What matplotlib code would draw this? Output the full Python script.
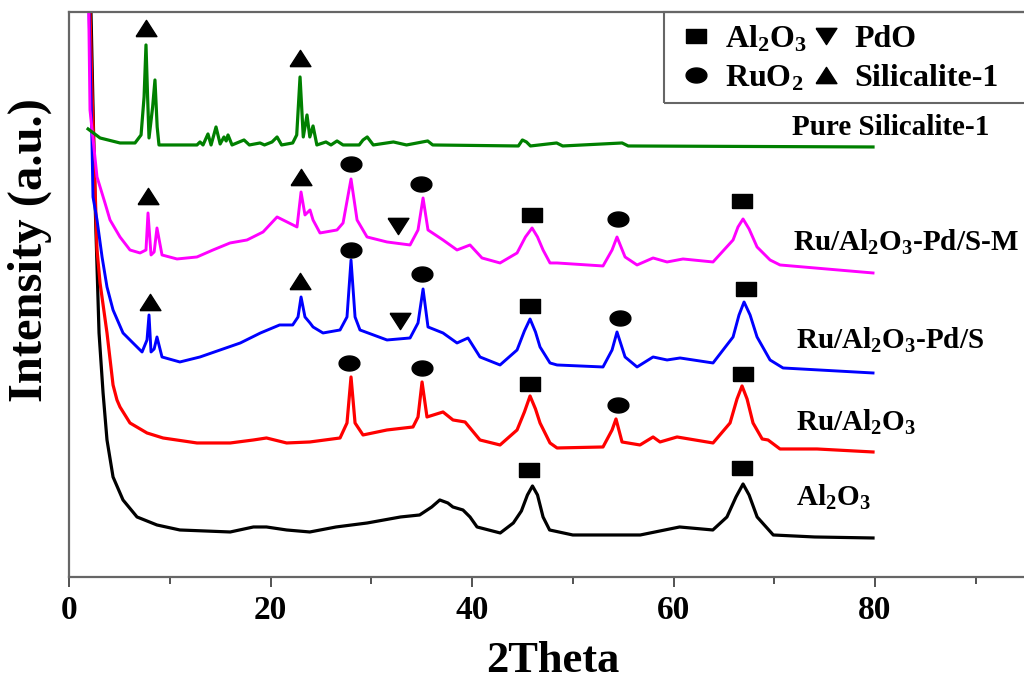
import numpy as np
import matplotlib
matplotlib.use('Agg')
import matplotlib.pyplot as plt
from matplotlib.lines import Line2D
from matplotlib.patches import Rectangle

plt.rcParams['font.family'] = ['Liberation Serif', 'DejaVu Serif']
plt.rcParams['font.weight'] = 'bold'
plt.rcParams['mathtext.default'] = 'regular'

# XRD patterns (2theta, intensity in a.u.)
al2o3_x = [2.0, 2.18, 2.58, 2.78, 2.98, 3.38, 3.77, 4.37, 5.36, 6.75, 8.73, 11.0, 16.0, 18.3, 19.6,
           21.6, 23.9, 26.5, 29.6, 32.9, 34.8, 36.0, 36.8, 37.6, 38.1, 39.1, 39.8, 40.5, 42.8, 44.1,
           44.9, 45.5, 46.0, 46.5, 47.05, 47.7, 50.0, 56.7, 60.6, 63.9, 65.3, 66.2, 66.9, 67.5,
           68.3, 69.9, 74.0, 79.8]
al2o3_y = [650, 565, 377, 310, 244, 184, 137, 100, 77, 60, 52, 47, 45, 50, 50,
           47, 45, 50, 54, 60, 62, 70, 77, 74, 70, 67, 60, 50, 44, 54,
           66, 82, 91, 82, 60, 47, 42, 42, 50, 47, 60, 80, 93, 82,
           60, 42, 40, 39]

ru_x = [2.0, 2.08, 2.28, 2.78, 3.08, 3.77, 4.37, 4.76, 5.06, 6.05, 7.74, 9.33, 12.7, 16.0, 18.3,
        19.6, 21.6, 23.9, 26.9, 27.59, 27.99, 28.39, 29.18, 31.56, 34.14, 34.64, 35.04, 35.53,
        37.12, 38.11, 39.31, 40.79, 42.78, 44.47, 45.2, 45.76, 46.3, 46.75, 47.74, 48.44, 53.0,
        53.9, 54.29, 54.89, 56.67, 57.97, 58.66, 60.35, 63.92, 65.61, 66.3, 66.8, 67.3, 67.89,
        68.8, 69.38, 70.57, 74.24, 79.8]
ru_y = [640, 567, 487, 327, 294, 244, 192, 177, 170, 154, 144, 139, 134, 134, 137,
        139, 134, 135, 139, 154, 200, 154, 142, 147, 150, 160, 195, 160,
        165, 157, 155, 137, 132, 147, 165, 181, 168, 154, 134, 129, 130,
        147, 158, 135, 132, 140, 135, 140, 134, 154, 178, 191, 178, 154,
        138, 137, 128, 128, 125]

rupds_x = [1.9, 1.99, 2.28, 2.38, 2.78, 3.28, 3.77, 4.37, 5.36, 6.35, 7.25, 7.74, 7.94, 8.14, 8.45,
           8.73, 9.23, 11.0, 13.0, 15.0, 17.0, 19.0, 20.9, 22.2, 22.73, 23.03, 23.42, 23.92, 24.22,
           25.21, 26.9, 27.59, 27.99, 28.39, 28.88, 31.56, 33.85, 34.64, 35.14, 35.63, 37.12, 38.51,
           39.6, 40.79, 42.78, 44.47, 45.2, 45.76, 46.3, 46.75, 47.74, 48.44, 53.0, 53.9, 54.39,
           55.19, 56.38, 57.97, 59.36, 60.65, 63.92, 65.91, 66.5, 67.0, 67.6, 68.29, 69.58, 70.87,
           79.8]
rupds_y = [620, 565, 434, 380, 357, 320, 290, 267, 244, 234, 225, 237, 262, 225, 228,
           240, 220, 215, 220, 227, 234, 244, 252, 252, 260, 280, 260, 254, 250,
           244, 247, 260, 317, 260, 247, 237, 239, 254, 288, 250, 244, 234,
           239, 220, 212, 227, 246, 258, 245, 230, 214, 212, 210, 227, 245,
           220, 210, 220, 217, 219, 214, 240, 262, 275, 262, 240, 217, 209,
           204]

rupdsm_x = [1.9, 2.08, 2.78, 3.57, 4.07, 5.06, 6.05, 7.05, 7.64, 7.84, 8.14, 8.45, 8.73, 9.23,
            10.72, 12.7, 14.29, 15.98, 17.67, 19.26, 20.65, 21.64, 22.63, 23.03, 23.42, 23.92,
            24.22, 24.91, 26.6, 27.2, 27.99, 28.59, 29.58, 31.56, 33.85, 34.64, 35.14, 35.63,
            37.12, 38.51, 39.8, 40.99, 42.78, 44.47, 45.3, 45.96, 46.5, 47.05, 47.74, 48.44,
            53.0, 53.9, 54.39, 55.19, 56.38, 57.97, 59.36, 60.94, 63.92, 65.91, 66.4, 66.9,
            67.5, 68.29, 69.58, 70.57, 79.8]
rupdsm_y = [610, 467, 400, 374, 357, 340, 327, 324, 327, 364, 322, 325, 349, 322,
            318, 320, 327, 334, 337, 345, 360, 355, 350, 385, 362, 367,
            357, 344, 347, 354, 398, 357, 340, 335, 332, 347, 379, 347,
            337, 327, 332, 319, 314, 324, 340, 349, 340, 327, 314, 314,
            311, 327, 340, 320, 312, 319, 315, 318, 315, 337, 350, 358,
            348, 330, 317, 312, 304]

sil_x = [1.89, 3.08, 5.06, 6.55, 7.15, 7.45, 7.64, 7.8, 7.94, 8.3, 8.53, 8.75, 8.93, 12.7, 13.0,
         13.3, 13.79, 14.1, 14.59, 15.0, 15.38, 15.6, 15.78, 16.18, 17.37, 17.9, 18.96, 19.4,
         20.15, 20.65, 21.1, 22.2, 22.6, 22.93, 23.25, 23.62, 23.9, 24.22, 24.6, 25.5, 26.0,
         26.6, 27.2, 28.8, 29.18, 29.6, 30.2, 32.2, 33.5, 35.6, 36.1, 44.6, 45.0, 45.4, 45.8,
         48.4, 49.0, 54.9, 55.5, 79.8]
sil_y = [448, 439, 434, 434, 442, 480, 532, 480, 439, 470, 497, 450, 432, 432, 435,
         432, 443, 432, 450, 433, 440, 436, 442, 432, 437, 432, 434, 432,
         435, 440, 432, 434, 442, 500, 440, 462, 440, 451, 432, 435, 432,
         436, 432, 432, 437, 440, 432, 435, 432, 436, 432, 431, 437, 435, 431,
         434, 431, 434, 431, 430]

# peak markers (2theta, height) per phase
sq_x = [45.96, 66.80, 45.76, 67.20, 45.76, 66.90, 45.66, 66.80]
sq_y = [362, 376, 271, 288, 193, 203, 107, 109]
circ_x = [27.99, 34.94, 54.49, 27.99, 35.04, 54.69, 27.79, 35.04, 54.49]
circ_y = [413, 393, 358, 327, 303, 259, 214, 209, 172]
dtri_x = [32.66, 32.85]
dtri_y = [351, 256]
utri_x = [7.69, 22.88, 7.79, 22.98, 7.99, 22.88]
utri_y = [549, 519, 381, 400, 275, 296]

labels = ['Pure Silicalite-1', r'Ru/Al$_2$O$_3$-Pd/S-M', r'Ru/Al$_2$O$_3$-Pd/S',
          r'Ru/Al$_2$O$_3$', r'Al$_2$O$_3$']
label_x = [71.8, 71.9, 72.2, 72.2, 72.2]
label_y = [449, 335, 237, 155, 80]

# stretched marker shapes like the original figure
t = np.linspace(0, 2 * np.pi, 40)
ell = list(zip(np.cos(t), 0.72 * np.sin(t)))
rect = [(-1, -0.66), (1, -0.66), (1, 0.66), (-1, 0.66), (-1, -0.66)]
up = [(-1, -0.78), (1, -0.78), (0, 0.78), (-1, -0.78)]
down = [(-1, 0.78), (1, 0.78), (0, -0.78), (-1, 0.78)]

fig = plt.figure(figsize=(10.24, 6.8), dpi=100)
ax = fig.add_axes([0.0674, 0.1515, 0.9839, 0.8309])

ax.plot(al2o3_x, al2o3_y, color='black', lw=2.3)
ax.plot(ru_x, ru_y, color='red', lw=2.3)
ax.plot(rupds_x, rupds_y, color='blue', lw=2.1)
ax.plot(rupdsm_x, rupdsm_y, color='magenta', lw=2.1)
ax.plot(sil_x, sil_y, color='green', lw=2.3)

ms = 15
ax.plot(sq_x, sq_y, ls='none', marker=rect, ms=ms, color='black')
ax.plot(circ_x, circ_y, ls='none', marker=ell, ms=ms, color='black')
ax.plot(dtri_x, dtri_y, ls='none', marker=down, ms=ms, color='black')
ax.plot(utri_x, utri_y, ls='none', marker=up, ms=ms, color='black')

for lab, lx, ly in zip(labels, label_x, label_y):
    ax.text(lx, ly, lab, fontsize=21, fontweight='bold', va='center', ha='left')

ax.set_xlim(0, 100)
ax.set_ylim(0, 565)
ax.set_xticks([0, 20, 40, 60, 80])
ax.set_xticks([10, 30, 50, 70, 90], minor=True)
ax.set_yticks([])
ax.tick_params(axis='x', direction='out', length=7, width=1.3, labelsize=24, pad=6, color='#444444')
ax.tick_params(axis='x', which='minor', direction='out', length=5, width=1.3, color='#444444')
for lbl in ax.get_xticklabels():
    lbl.set_fontweight('bold')
for s in ['left', 'top', 'bottom']:
    ax.spines[s].set_color('#666666')
    ax.spines[s].set_linewidth(1.6)
ax.spines['right'].set_visible(False)

fig.text(553 / 1024, 1 - 661 / 680, '2Theta', fontsize=32, fontweight='bold',
         ha='center', va='center')
fig.text(30 / 1024, 1 - 250 / 680, 'Intensity (a.u.)', fontsize=35, fontweight='bold',
         ha='center', va='center', rotation=90)

handles = [
    Line2D([], [], ls='none', marker=rect, ms=ms, color='black', label=r'Al$_2$O$_3$'),
    Line2D([], [], ls='none', marker=ell, ms=ms, color='black', label=r'RuO$_2$'),
    Line2D([], [], ls='none', marker=down, ms=ms, color='black', label='PdO'),
    Line2D([], [], ls='none', marker=up, ms=ms, color='black', label='Silicalite-1'),
]
leg = ax.legend(handles=handles, ncol=2, loc='upper left',
                bbox_to_anchor=(664 / 1024, 1 - 8 / 680), bbox_transform=fig.transFigure,
                prop={'size': 23, 'weight': 'bold'}, frameon=False,
                handlelength=1.0, handletextpad=0.4, columnspacing=0.1, labelspacing=0.3,
                borderpad=0.5, borderaxespad=0)
fig.patches.append(Rectangle((664 / 1024, 1 - 103 / 680), 380 / 1024, 91 / 680,
                             transform=fig.transFigure, fill=False,
                             edgecolor='#666666', linewidth=1.5))

fig.savefig('out.png', dpi=100)
